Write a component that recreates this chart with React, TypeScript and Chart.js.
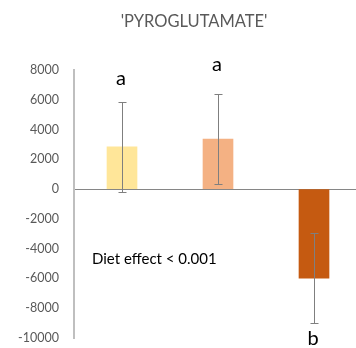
import React, { useEffect, useRef } from "react";
import { Chart, registerables } from "chart.js";

Chart.register(...registerables);

const categories = ["Diet 1", "Diet 2", "Diet 3"];
const means = [2840, 3360, -5980];
const errors = [3040, 3000, 3030];
const letters = ["a", "a", "b"];
const letterValues = [6980, 7925, -10480];
const barColors = ["#FFE699", "#F4B183", "#C55A11"];
const yTicks = [8000, 6000, 4000, 2000, 0, -2000, -4000, -6000, -8000, -10000];
const titleText = "'PYROGLUTAMATE'";
const noteText = "Diet effect < 0.001";
const noteValue = -5000;

const FONT = "Lato, 'Liberation Sans', sans-serif";

const overlay = {
  id: "overlay",
  afterDatasetsDraw(chart: any) {
    const { ctx, scales } = chart;
    const x = scales.x;
    const y = scales.y;
    ctx.save();
    ctx.strokeStyle = "#7f7f7f";
    ctx.lineWidth = 1;
    means.forEach((m, i) => {
      const px = Math.round(x.getPixelForValue(i)) + 0.5;
      const top = Math.round(y.getPixelForValue(m + errors[i])) + 0.5;
      const bot = Math.round(y.getPixelForValue(m - errors[i])) + 0.5;
      ctx.beginPath();
      ctx.moveTo(px, top);
      ctx.lineTo(px, bot);
      ctx.moveTo(px - 4, top);
      ctx.lineTo(px + 4, top);
      ctx.moveTo(px - 4, bot);
      ctx.lineTo(px + 4, bot);
      ctx.stroke();
    });
    ctx.fillStyle = "#000000";
    ctx.font = `20px ${FONT}`;
    ctx.textAlign = "center";
    ctx.textBaseline = "alphabetic";
    letters.forEach((l, i) => {
      ctx.fillText(l, x.getPixelForValue(i) - 1, y.getPixelForValue(letterValues[i]));
    });
    ctx.font = `15px ${FONT}`;
    ctx.textAlign = "left";
    ctx.fillText(noteText, chart.chartArea.left + 18, y.getPixelForValue(noteValue));
    ctx.fillStyle = "#595959";
    ctx.font = `16.5px ${FONT}`;
    ctx.textAlign = "center";
    ctx.textBaseline = "middle";
    ctx.fillText(titleText, 194, 22);
    ctx.restore();
  },
};

export default function App() {
  const ref = useRef<HTMLCanvasElement | null>(null);
  useEffect(() => {
    if (!ref.current) return;
    const chart = new Chart(ref.current, {
      type: "bar",
      data: {
        labels: categories,
        datasets: [
          {
            data: means,
            backgroundColor: barColors,
            borderWidth: 0,
            barThickness: 30,
          },
        ],
      },
      options: {
        responsive: false,
        animation: false,
        devicePixelRatio: 1,
        layout: { padding: { top: 70, bottom: 10, left: 0, right: 0 } },
        plugins: { legend: { display: false }, tooltip: { enabled: false }, title: { display: false } },
        scales: {
          x: { display: false, offset: true },
          y: {
            min: Math.min(...yTicks),
            max: Math.max(...yTicks),
            afterBuildTicks: (s: any) => {
              s.ticks = yTicks.map((v) => ({ value: v }));
            },
            afterFit: (s: any) => {
              s.width = 74;
              s.paddingTop = 0;
              s.paddingBottom = 0;
            },
            ticks: {
              color: "#595959",
              font: { family: FONT, size: 12.5 },
              padding: 15,
              callback: (v: any) => String(v),
            },
            border: { display: true, color: "#bfbfbf", width: 2 },
            grid: {
              drawTicks: false,
              color: (c: any) => (c.tick && c.tick.value === 0 ? "#868686" : "rgba(0,0,0,0)"),
              lineWidth: 1,
            },
          },
        },
      },
      plugins: [overlay],
    });
    return () => chart.destroy();
  }, []);
  return (
    <div style={{ position: "absolute", left: 0, top: 0, width: 356, height: 348, overflow: "hidden", background: "#fff" }}>
      <canvas ref={ref} width={362} height={348} style={{ display: "block" }} />
    </div>
  );
}
